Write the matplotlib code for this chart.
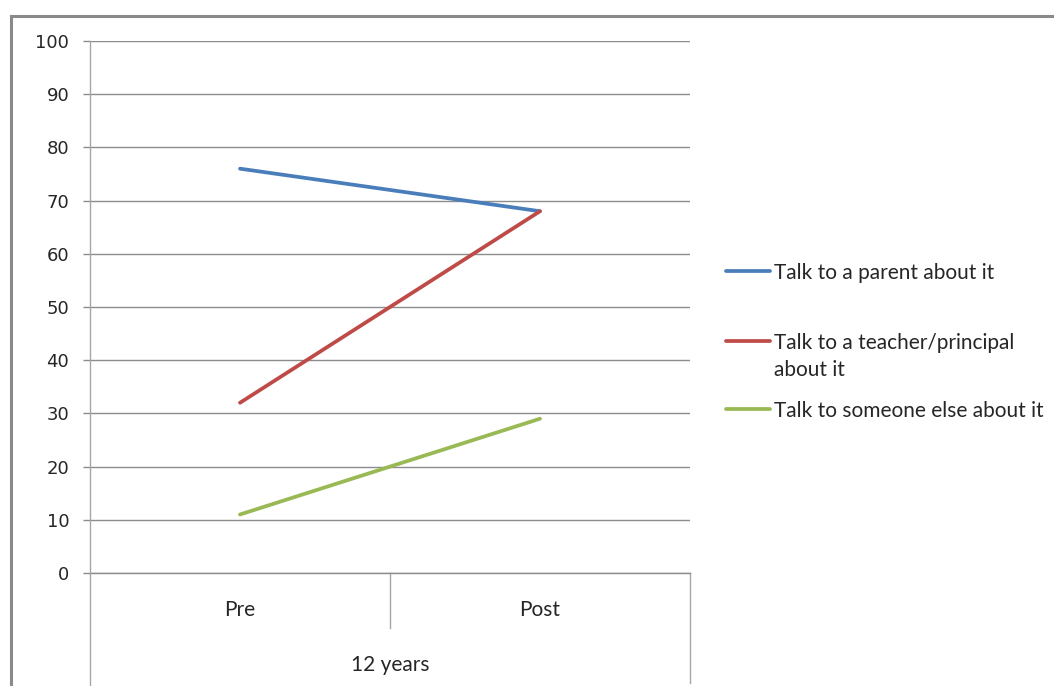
import matplotlib
matplotlib.use("Agg")
import matplotlib.pyplot as plt
from matplotlib.lines import Line2D

# Survey responses (% of 12-year-olds), before and after the programme
categories = ["Pre", "Post"]
group_label = "12 years"
series_names = [
    "Talk to a parent about it",
    "Talk to a teacher/principal\nabout it",
    "Talk to someone else about it",
]
parent = [76, 68]
teacher = [32, 68]
someone_else = [11, 29]
y_ticks = [0, 10, 20, 30, 40, 50, 60, 70, 80, 90, 100]

colors = ["#4A7EBB", "#BE4B48", "#98B954"]
grid_col = "#8C8C8C"
text_col = "#262626"

W, H = 1054, 686
fig = plt.figure(figsize=(W / 100, H / 100), dpi=100)
fig.patch.set_facecolor("white")

# chart frame (only top and left edges fall inside the image)
fig.add_artist(Line2D([10.5 / W, 1.0], [1 - 15.5 / H] * 2, transform=fig.transFigure,
                      color="#8A8A8A", lw=2.2))
fig.add_artist(Line2D([10.5 / W] * 2, [1 - 15.5 / H, 0], transform=fig.transFigure,
                      color="#8A8A8A", lw=2.2))

ax = fig.add_axes([90 / W, 1 - 573 / H, 600 / W, 532 / H])
ax.set_xlim(-0.5, 1.5)
ax.set_ylim(0, 100)

for vals, c in zip([parent, teacher, someone_else], colors):
    ax.plot(range(len(categories)), vals, color=c, lw=2.7, solid_capstyle="round", zorder=3)

for s in ["top", "right", "bottom"]:
    ax.spines[s].set_visible(False)
ax.spines["left"].set_color("#A6A6A6")
ax.spines["left"].set_linewidth(1.0)

ax.set_yticks(y_ticks)
ax.yaxis.grid(True, color=grid_col, lw=1.0)
ax.set_axisbelow(True)
ax.tick_params(axis="y", length=5, width=1.0, color=grid_col, pad=10,
               labelsize=13, labelcolor=text_col)
for lbl in ax.get_yticklabels():
    lbl.set_fontfamily("DejaVu Sans")
ax.set_xticks([])

# multi-level category axis below the plot
kw = dict(transform=ax.transAxes, color="#A6A6A6", lw=1.0, clip_on=False)
ax.add_line(Line2D([0.5, 0.5], [0, -55 / 532], **kw))
ax.add_line(Line2D([0, 0], [0, -113 / 532], **kw))
ax.add_line(Line2D([1, 1], [0, -110 / 532], **kw))
ax.add_line(Line2D([0, 1], [0, 0], transform=ax.transAxes, color=grid_col, lw=1.0,
                   clip_on=False))

font = "Lato"
fs = 15
for i, cat in enumerate(categories):
    ax.text(i, -37 / 532 * 100, cat, ha="center", va="center", fontsize=fs,
            family=font, color=text_col)
ax.text(0.5, -92 / 532 * 100, group_label, ha="center", va="center", fontsize=fs,
        family=font, color=text_col)

# legend, handle aligned with the first line of each entry
legend_y = [271, 341, 409]
for name, c, yy in zip(series_names, colors, legend_y):
    fy = 1 - yy / H
    fig.add_artist(Line2D([726 / W, 770 / W], [fy, fy], transform=fig.transFigure,
                          color=c, lw=2.7, solid_capstyle="round"))
    for k, line in enumerate(name.split("\n")):
        fig.text(774 / W, 1 - (yy + 2 + k * 27) / H, line, ha="left", va="center",
                 fontsize=fs, family=font, color=text_col)

fig.savefig("out.png", dpi=100)
